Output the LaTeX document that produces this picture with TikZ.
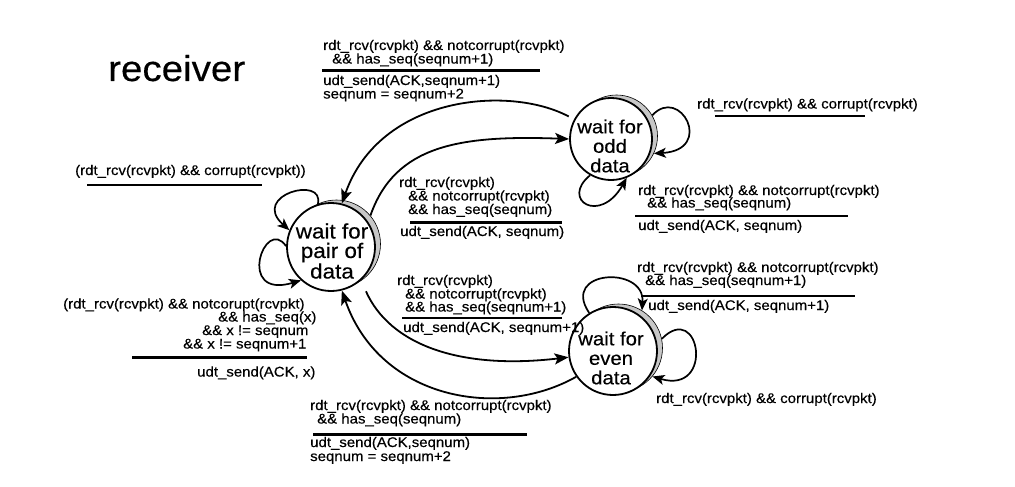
\documentclass[tikz,border=0pt]{standalone}
\usepackage{fontspec}
\setmainfont{Liberation Sans}[FakeStretch=1.07,FakeBold=0.35]
\usetikzlibrary{arrows.meta}
\begin{document}
\begin{tikzpicture}[x=1pt,y=-1pt,
  lbl/.style={anchor=base west, inner sep=0pt, font=\fontsize{14}{16}\selectfont},
  guard/.style={line width=2.6pt},
  edge/.style={line width=1.8pt, -{Stealth[length=14pt,width=11pt,inset=3pt]}},
  loop/.style={line width=1.7pt, -{Stealth[length=12pt,width=10pt,inset=3pt]}},
  state/.style={circle, draw, line width=1.8pt, fill=white, minimum size=#1, inner sep=0pt},
  shade/.style={circle, draw=black, line width=0.6pt, fill=black!22, minimum size=#1, inner sep=0pt},
  stxt/.style={inner sep=0pt, align=center, font=\fontsize{#1}{19.5}\selectfont},
]
\useasboundingbox (0,0) rectangle (1015,487);

% states with shadow crescents
\node[shade=88pt] (pairS) at (336.5,244) {};
\node[state=88pt] (pair) at (331,247) {};
\node[shade=82pt] (oddS) at (616.5,136) {};
\node[state=82pt] (odd) at (611,139) {};
\node[shade=88pt] (evenS) at (618.5,348) {};
\node[state=88pt] (even) at (613,351) {};

\node[stxt=21] (pairtxt) at (332,251) {wait for\\pair of\\data};
\node[stxt=19] (oddtxt) at (610,146) {wait for\\odd\\data};
\node[stxt=19] (eventxt) at (611,358) {wait for\\even\\data};

\node[anchor=base west, inner sep=0pt, font=\fontsize{36}{40}\selectfont] (title) at (108,81) {receiver};

% transitions between states
\draw[edge] (pairS.40) .. controls (395,145) and (460,135) .. (odd.180);
\draw[edge, shorten <=6pt] (odd.152) .. controls (510,85) and (380,95) .. (pair.76);
\draw[edge, shorten <=12pt] (pair.-48) .. controls (390,345) and (460,370) .. (even.188);
\draw[edge] (even.215) .. controls (500,420) and (380,400) .. (pair.-76);

% self loops
\draw[loop] (pair.107) .. controls (325,175) and (250,195) .. (pair.158);
\draw[loop] (pair.179) .. controls (265,215) and (235,300) .. (pair.228);
\draw[loop] (oddS.30) .. controls (680,85) and (715,150) .. (oddS.-25);
\draw[loop] (odd.240) .. controls (560,200) and (600,225) .. (odd.-68);
\draw[loop] (even.122) .. controls (560,270) and (645,265) .. (evenS.58);
\draw[loop] (evenS.12) .. controls (700,300) and (715,395) .. (evenS.-40);

% top label (pair -> odd)
\node[lbl] (t1) at (323,50) {rdt\_rcv(rcvpkt) \&\& notcorrupt(rcvpkt)};
\node[lbl] (t2) at (332,63.5) {\&\& has\_seq(seqnum+1)};
\draw[guard] (322,70.5) -- (540,70.5);
\node[lbl] (t3) at (323,85) {udt\_send(ACK,seqnum+1)};
\node[lbl] (t4) at (323,98.5) {seqnum = seqnum+2};

% upper-left loop label
\node[lbl] (u1) at (75,175) {(rdt\_rcv(rcvpkt) \&\& corrupt(rcvpkt))};
\draw[guard] (87,185) -- (262,185);

% middle upper label
\node[lbl] (m1) at (399,187) {rdt\_rcv(rcvpkt)};
\node[lbl] (m2) at (408,200.5) {\&\& notcorrupt(rcvpkt)};
\node[lbl] (m3) at (408,214) {\&\& has\_seq(seqnum)};
\draw[guard] (410,222.5) -- (562,222.5);
\node[lbl] (m4) at (400,236) {udt\_send(ACK, seqnum)};

% odd right loop label
\node[lbl] (r1) at (697,108.5) {rdt\_rcv(rcvpkt) \&\& corrupt(rcvpkt)};
\draw[guard] (715,116) -- (865,116);

% odd bottom loop label
\node[lbl] (o1) at (638,195) {rdt\_rcv(rcvpkt) \&\& notcorrupt(rcvpkt)};
\node[lbl] (o2) at (647,207.5) {\&\& has\_seq(seqnum)};
\draw[guard] (635,216) -- (848,216);
\node[lbl] (o3) at (638,230) {udt\_send(ACK, seqnum)};

% even top loop label
\node[lbl] (e1) at (637,272) {rdt\_rcv(rcvpkt) \&\& notcorrupt(rcvpkt)};
\node[lbl] (e2) at (645,285) {\&\& has\_seq(seqnum+1)};
\draw[guard] (641,296) -- (855,296);
\node[lbl] (e3) at (648,310) {udt\_send(ACK, seqnum+1)};

% middle lower label
\node[lbl] (n1) at (397,285) {rdt\_rcv(rcvpkt)};
\node[lbl] (n2) at (405,298.5) {\&\& notcorrupt(rcvpkt)};
\node[lbl] (n3) at (405,311.5) {\&\& has\_seq(seqnum+1)};
\draw[guard] (402,318) -- (562,318);
\node[lbl] (n4) at (403,332) {udt\_send(ACK, seqnum+1)};

% lower-left loop label
\node[lbl] (w1) at (63,308.5) {(rdt\_rcv(rcvpkt) \&\& notcorupt(rcvpkt)};
\node[lbl] (w2) at (218,321.5) {\&\& has\_seq(x)};
\node[lbl] (w3) at (202,335) {\&\& x != seqnum};
\node[lbl] (w4) at (183,348.5) {\&\& x != seqnum+1};
\draw[guard] (132,357.5) -- (307,357.5);
\node[lbl] (w5) at (197,376.5) {udt\_send(ACK, x)};

% even right loop label
\node[lbl] (c1) at (656,403) {rdt\_rcv(rcvpkt) \&\& corrupt(rcvpkt)};

% bottom label (even -> pair)
\node[lbl] (b1) at (310,410) {rdt\_rcv(rcvpkt) \&\& notcorrupt(rcvpkt)};
\node[lbl] (b2) at (317,423.5) {\&\& has\_seq(seqnum)};
\draw[guard] (313,434.5) -- (527,434.5);
\node[lbl] (b3) at (310,447) {udt\_send(ACK,seqnum)};
\node[lbl] (b4) at (310,461) {seqnum = seqnum+2};
\end{tikzpicture}
\end{document}
